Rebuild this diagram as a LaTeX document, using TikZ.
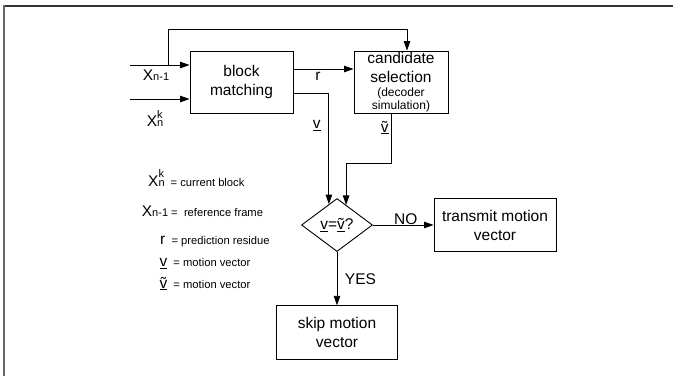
\documentclass[tikz,border=0pt]{standalone}
\usepackage{fontspec}
\setmainfont{Liberation Sans}
\usetikzlibrary{arrows.meta,shapes.geometric,calc}

% type sizes
\newcommand\mainsize{\fontsize{15.5}{19}\selectfont}
\newcommand\subsize{\fontsize{11}{13}\selectfont}
\newcommand\legsize{\fontsize{11.2}{13}\selectfont}
\newcommand\smallsize{\fontsize{12}{13}\selectfont}
% symbols
\newcommand\symX{{\mainsize X}}
\newcommand\Xcur{\symX{\subsize\rlap{\raisebox{8.5pt}{k}}n}}
\newcommand\Xref{\symX{\subsize n-1}}
\newcommand\vecv{\underline{v}}
\newcommand\vect{\underline{\~{v}}}

\begin{document}
\begin{tikzpicture}[x=1pt,y=-1pt,
  box/.style={draw, line width=0.9pt, inner sep=0pt, align=center, font=\mainsize},
  arr/.style={line width=0.9pt, -{Triangle[length=9.5pt,width=6.5pt]}},
  lbl/.style={inner sep=0pt, font=\mainsize},
  leg/.style={inner sep=0pt, anchor=base west, font=\legsize}]

\useasboundingbox (0,0) rectangle (673,376);
\fill[white] (0,0) rectangle (673,376);
% frame edges
\draw[line width=1.3pt, black!80] (3,6) -- (673,6);
\draw[line width=1.8pt, black!60] (4,5.4) -- (4,376);

% blocks
\node[box, minimum width=103pt, minimum height=62pt] (bm) at (241.5,82) {block\\matching};
\node[box, minimum width=94pt, minimum height=62pt] (cs) at (401,82)
  {candidate\\selection\\[-5pt]{\smallsize (decoder}\\[-6pt]{\smallsize simulation)}};
\node[draw, diamond, line width=0.9pt, inner sep=0pt, aspect=1.34,
  minimum width=71pt, minimum height=53pt, font=\mainsize] (dec) at (337,225) {\vecv=\vect?};
\node[box, minimum width=122pt, minimum height=53pt] (tx) at (495,225) {transmit motion\\vector};
\node[box, minimum width=121.5pt, minimum height=53.5pt] (sk) at (337,332.5) {skip motion\\vector};

% connector ends
\coordinate (in1) at (130,65);
\coordinate (in2) at (130,99);
\coordinate (split) at (168,65);
\coordinate (vin) at ($(dec.north)!{8/35.5}!(dec.west)$);
\coordinate (tin) at ($(dec.north)!{9/35.5}!(dec.east)$);

% connectors
\draw[arr] (in1) -- (in1 -| bm.west);
\draw[arr] (in2) -- (in2 -| bm.west);
\draw[arr] (split) -- ++(0,-36) -| ([xshift=6pt]cs.north);
\draw[arr] ([yshift=13pt]bm.east) -- ([yshift=13pt]cs.west);
\draw[arr] ([yshift=-11pt]bm.east) -| (vin);
\draw[arr] ([xshift=-10pt]cs.south) -- ++(0,50) -| (tin);
\draw[arr] (dec.east) -- (tx.west);
\draw[arr] (dec.south) -- (sk.north);

% connector labels
\node[lbl, anchor=base west] (lxr) at (142.7,80) {\Xref};
\node[lbl, anchor=base west] (lxc) at (146.7,126.7) {\Xcur};
\node[lbl, anchor=base] (lr) at (318,80.7) {r};
\node[lbl, anchor=base] (lv) at (316.7,128.3) {\vecv};
\node[lbl, anchor=base] (lt) at (384.7,132) {\vect};
\node[lbl, anchor=base] (lno) at (405.8,224) {NO};
\node[lbl, anchor=base] (lyes) at (360.5,284) {YES};

% legend
\node[leg] (k1) at (148,186) {\Xcur\hspace{6pt}= current block};
\node[leg] (k2) at (141.7,216) {\Xref\ =\ \ reference frame};
\node[leg] (k3) at (160,244.3) {{\mainsize r}\ \ = prediction residue};
\node[leg] (k4) at (159.3,266.5) {{\mainsize\vecv}\ \ = motion vector};
\node[leg] (k5) at (159.3,288) {{\mainsize\vect}\ \ = motion vector};
\end{tikzpicture}
\end{document}
